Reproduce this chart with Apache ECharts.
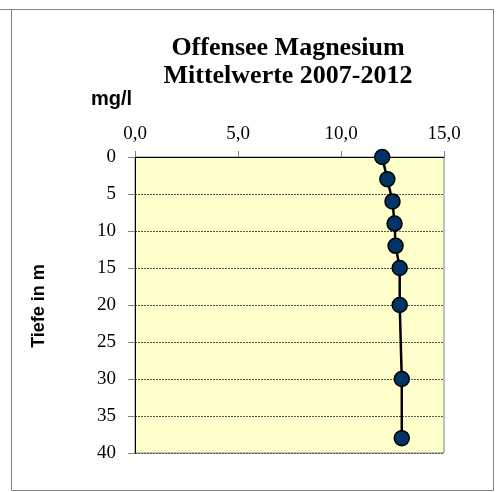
<!DOCTYPE html>
<html>
<head>
<meta charset="utf-8">
<script src="https://cdn.jsdelivr.net/npm/echarts@6/dist/echarts.min.js"></script>
<style>
  html, body { margin: 0; padding: 0; background: #fff; }
  #main { width: 498px; height: 492px; }
</style>
</head>
<body>
<div id="main"></div>
<script>
// Tiefe (m) und Magnesium-Mittelwerte (mg/l)
const depths = [0, 3, 6, 9, 12, 15, 20, 30, 38]
const magnesium = [12.0, 12.25, 12.5, 12.6, 12.65, 12.85, 12.85, 12.95, 12.95]
const titleLines = ['Offensee Magnesium', 'Mittelwerte 2007-2012']

const serif = '"Liberation Serif", "Times New Roman", serif'
const sans = '"Liberation Sans", Arial, sans-serif'

const chart = echarts.init(document.getElementById('main'))

const option = {
    animation: false,
    title: {
        text: titleLines.join('\n'),
        left: 283,
        textAlign: 'center',
        top: 29,
        textStyle: {
            fontFamily: serif,
            fontWeight: 'bold',
            fontSize: 26,
            lineHeight: 28,
            color: '#000'
        }
    },
    graphic: [
        {
            type: 'rect',
            shape: { x: 11.5, y: 9.5, width: 482, height: 481 },
            style: { fill: 'none', stroke: '#808080', lineWidth: 1 },
            silent: true
        },
        {
            type: 'line',
            shape: { x1: 0, y1: 9.5, x2: 12, y2: 9.5 },
            style: { stroke: '#808080', lineWidth: 1 },
            silent: true
        },
        {
            type: 'text',
            left: 91,
            top: 89,
            style: { text: 'mg/l', font: 'bold 20px ' + sans, fill: '#000' }
        },
        {
            type: 'text',
            x: 39,
            y: 306,
            rotation: Math.PI / 2,
            style: {
                text: 'Tiefe in m',
                font: 'bold 18px ' + sans,
                fill: '#000',
                align: 'center',
                verticalAlign: 'middle'
            }
        }
    ],
    grid: {
        left: 135,
        top: 157,
        width: 309,
        height: 296,
        show: true,
        backgroundColor: '#ffffcc',
        borderColor: '#808080',
        borderWidth: 1
    },
    xAxis: {
        type: 'value',
        position: 'top',
        min: 0,
        max: 15,
        interval: 5,
        axisLine: { show: true, onZero: false, lineStyle: { color: '#000', width: 1 } },
        axisTick: { show: true, length: 6, lineStyle: { color: '#808080' } },
        splitLine: { show: false },
        axisLabel: {
            margin: 13,
            fontFamily: serif,
            fontSize: 19,
            color: '#000',
            formatter: v => v.toFixed(1).replace('.', ',')
        }
    },
    yAxis: {
        type: 'value',
        inverse: true,
        min: 0,
        max: 40,
        interval: 5,
        axisLine: { show: true, onZero: false, lineStyle: { color: '#000', width: 1 } },
        axisTick: { show: true, length: 7, lineStyle: { color: '#808080' } },
        splitLine: { show: true, lineStyle: { color: '#555', type: [2, 1], width: 1 } },
        axisLabel: {
            margin: 19,
            fontFamily: serif,
            fontSize: 19,
            color: '#000'
        }
    },
    series: [
        {
            type: 'line',
            data: depths.map((d, i) => [magnesium[i], d]),
            symbol: 'circle',
            symbolSize: 15,
            lineStyle: { color: '#000', width: 2.5 },
            itemStyle: { color: '#003366', borderColor: '#000', borderWidth: 1.5 }
        }
    ]
}

chart.setOption(option)
</script>
</body>
</html>
